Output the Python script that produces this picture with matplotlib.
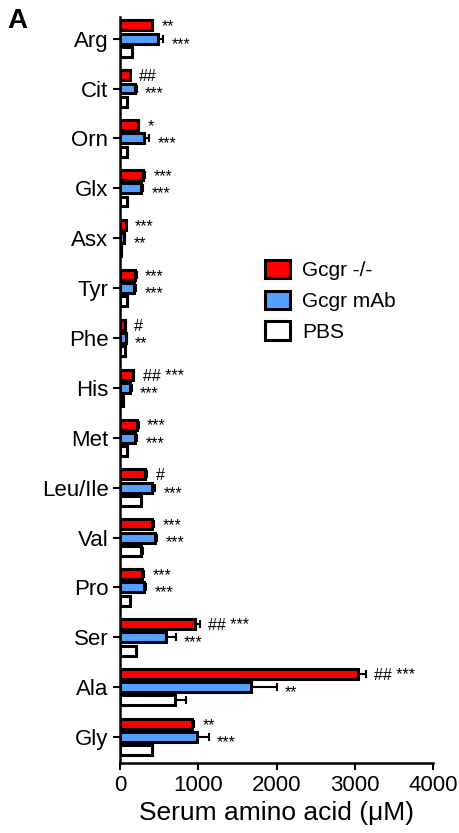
import matplotlib.pyplot as plt
import numpy as np

plt.rcParams['font.family'] = ['Liberation Sans', 'DejaVu Sans']

# amino acids, top to bottom
amino = ['Arg', 'Cit', 'Orn', 'Glx', 'Asx', 'Tyr', 'Phe', 'His', 'Met',
         'Leu/Ile', 'Val', 'Pro', 'Ser', 'Ala', 'Gly']

# mean serum levels (uM)
ko_mean = [400, 120, 230, 290, 70, 190, 60, 165, 215, 320, 410, 280, 960, 3040, 920]
ko_err = [20, 10, 15, 30, 8, 20, 8, 15, 20, 25, 25, 25, 60, 100, 30]
mab_mean = [480, 190, 310, 270, 50, 180, 70, 120, 190, 410, 440, 300, 580, 1670, 980]
mab_err = [70, 20, 60, 25, 10, 25, 10, 25, 25, 40, 30, 30, 130, 330, 150]
pbs_mean = [150, 80, 90, 90, 15, 85, 55, 40, 85, 260, 270, 120, 200, 700, 410]
pbs_err = [10, 8, 10, 10, 3, 10, 8, 5, 10, 15, 15, 10, 10, 140, 15]

# significance marks
ko_sig = ['**', '##', '*', '***', '***', '***', '#', '## ***', '***', '#',
          '***', '***', '## ***', '## ***', '**']
mab_sig = ['***', '***', '***', '***', '**', '***', '**', '***', '***', '***',
           '***', '***', '***', '**', '***']

labels = ['Gcgr -/-', 'Gcgr mAb', 'PBS']
colors = ['#ff0000', '#55a0ff', 'white']

fig = plt.figure(figsize=(4.59, 8.33), dpi=100)
ax = fig.add_axes([0.262, 0.084, 0.681, 0.896])

y = np.arange(len(amino))
h = 0.2
off = 0.265
groups = [(ko_mean, ko_err, ko_sig, -1), (mab_mean, mab_err, mab_sig, -4),
          (pbs_mean, pbs_err, None, 0)]
for k, (m, e, sig, dy) in enumerate(groups):
    yy = y + (k - 1) * off
    ax.barh(yy, m, height=h, color=colors[k], edgecolor='black', linewidth=2.2,
            label=labels[k], zorder=2)
    ax.errorbar(m, yy, xerr=[np.zeros(len(m)), e], fmt='none', ecolor='black',
                elinewidth=1.5, capsize=3, capthick=1.5, zorder=1)
    if sig is not None:
        for i in range(len(m)):
            ax.annotate(sig[i], (m[i] + e[i], yy[i]), xytext=(6, dy),
                        textcoords='offset points', va='center', ha='left',
                        fontsize=11.5)

ax.set_ylim(len(amino) - 1 + 0.52, -0.44)
ax.set_xlim(0, 4000)
ax.set_xticks([0, 1000, 2000, 3000, 4000])
ax.set_yticks(y)
ax.set_yticklabels(amino)
ax.tick_params(axis='both', labelsize=16, width=1.5, length=5)
ax.spines['top'].set_visible(False)
ax.spines['right'].set_visible(False)
ax.spines['left'].set_linewidth(1.8)
ax.spines['bottom'].set_linewidth(1.8)
ax.set_xlabel('Serum amino acid (\u03bcM)', fontsize=19)

ax.legend(loc='upper left', bbox_to_anchor=(0.415, 0.694), frameon=False,
          fontsize=15, handlelength=1.2, handleheight=1.0, labelspacing=0.5,
          handletextpad=0.6, borderpad=0.2)

fig.text(0.015, 0.99, 'A', fontsize=20, fontweight='bold', va='top')

fig.savefig('out.png', dpi=100)
